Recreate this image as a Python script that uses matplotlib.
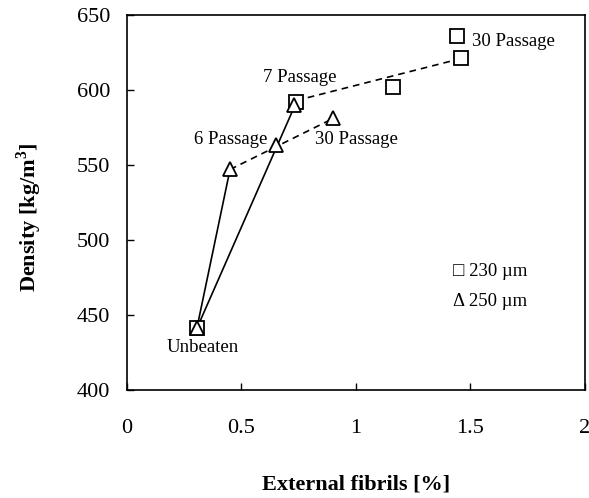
import matplotlib.pyplot as plt

plt.rcParams['font.family'] = ['Liberation Serif', 'DejaVu Sans']
plt.rcParams['mathtext.fontset'] = 'custom'
plt.rcParams['mathtext.rm'] = 'Liberation Serif'
plt.rcParams['mathtext.bf'] = 'Liberation Serif:bold'

# 230 um fibres
sq_x = [0.305, 0.74, 1.16, 1.46, 1.44]
sq_y = [441, 592, 602, 621, 636]
# 250 um fibres
tri_x = [0.305, 0.45, 0.65, 0.73, 0.90]
tri_y = [441, 547, 563, 590, 581]

# solid lines: unbeaten -> first beaten point
solid_sq_x, solid_sq_y = [0.305, 0.74], [441, 592]
solid_tri_x, solid_tri_y = [0.305, 0.45], [441, 547]
# dashed trend lines
dash_sq_x, dash_sq_y = [0.74, 1.46], [593, 621]
dash_tri_x, dash_tri_y = [0.45, 0.90], [547, 581]

fig = plt.figure(figsize=(5.89, 4.98), dpi=100)
ax = fig.add_axes([0.2156, 0.2169, 0.7775, 0.753])

ax.plot(solid_sq_x, solid_sq_y, color='black', lw=1.2)
ax.plot(solid_tri_x, solid_tri_y, color='black', lw=1.2)
ax.plot(dash_sq_x, dash_sq_y, color='black', lw=1.2, ls=(0, (4, 3)))
ax.plot(dash_tri_x, dash_tri_y, color='black', lw=1.2, ls=(0, (4, 3)))

ax.plot(sq_x, sq_y, ls='none', marker='s', ms=9.5, mfc='white', mec='black', mew=1.3)
ax.plot(tri_x, tri_y, ls='none', marker='^', ms=9.5, mfc='white', mec='black', mew=1.3)

fs = 13.5
ax.text(1.505, 632, '30 Passage', fontsize=fs, va='center', ha='left')
ax.text(0.755, 608, '7 Passage', fontsize=fs, va='center', ha='center')
ax.text(0.615, 567, '6 Passage', fontsize=fs, va='center', ha='right')
ax.text(1.0, 567, '30 Passage', fontsize=fs, va='center', ha='center')
ax.text(0.332, 428, 'Unbeaten', fontsize=fs, va='center', ha='center')

ax.text(1.425, 479, '\u25a1 230 \u00b5m', fontsize=fs, va='center', ha='left')
ax.text(1.425, 459, '\u0394 250 \u00b5m', fontsize=fs, va='center', ha='left')

ax.set_xlim(0, 2)
ax.set_ylim(400, 650)
ax.set_xticks([0, 0.5, 1, 1.5, 2])
ax.set_xticklabels(['0', '0.5', '1', '1.5', '2'])
ax.set_yticks([400, 450, 500, 550, 600, 650])
ax.tick_params(direction='in', labelsize=16, length=5, width=1)
ax.tick_params(axis='x', pad=21)
ax.tick_params(axis='y', pad=12)
for s in ax.spines.values():
    s.set_linewidth(1.2)

ax.set_xlabel('External fibrils [%]', fontsize=16, fontweight='bold', va='center')
ax.set_ylabel('Density [kg/m$^\\mathbf{3}$]', fontsize=16, fontweight='bold', va='center')
ax.xaxis.set_label_coords(0.501, -0.252)
ax.yaxis.set_label_coords(-0.213, 0.46)

fig.savefig('out.png', dpi=100)
